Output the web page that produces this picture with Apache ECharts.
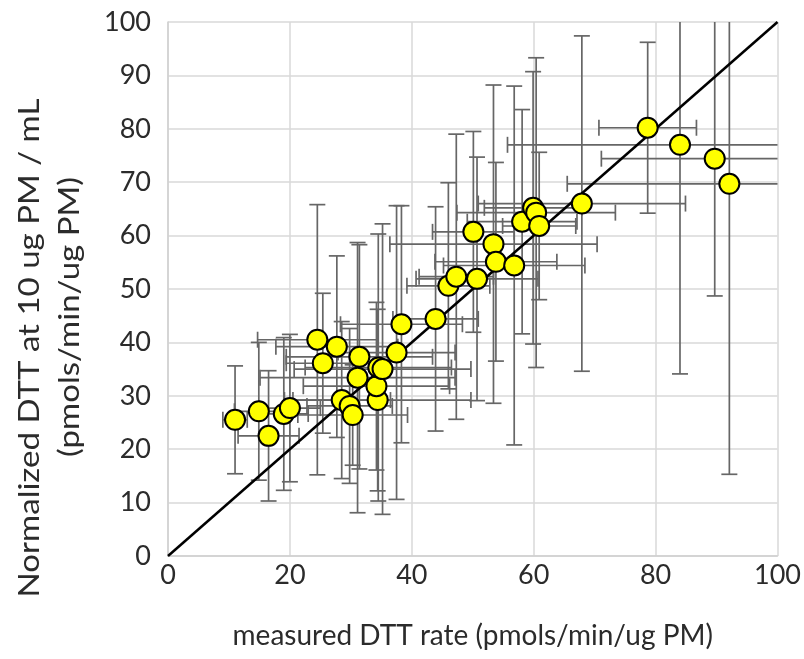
<!DOCTYPE html>
<html>
<head>
<meta charset="utf-8">
<script src="https://cdn.jsdelivr.net/npm/echarts@6/dist/echarts.min.js"></script>
<style>
html,body{margin:0;padding:0;background:#fff;}
#chart{width:804px;height:659px;}
</style>
</head>
<body>
<div id="chart"></div>
<script>
// measured DTT rate (x) and normalized DTT (y)
var xValues = [11.0, 14.9, 16.5, 19.0, 20.0, 24.5, 25.4, 27.7, 28.5, 29.8, 30.3, 31.1, 31.4, 34.4, 34.2, 34.5, 35.2, 37.5, 38.3, 43.9, 46.0, 47.3, 50.1, 50.7, 53.4, 53.8, 56.8, 58.1, 59.9, 60.4, 60.9, 67.9, 78.7, 84.0, 89.7, 92.1];
var yValues = [25.5, 27.1, 22.5, 26.6, 27.7, 40.5, 36.1, 39.2, 29.2, 28.1, 26.4, 33.4, 37.3, 29.2, 31.8, 35.3, 35.0, 38.1, 43.4, 44.4, 50.6, 52.3, 60.7, 51.9, 58.4, 55.1, 54.4, 62.6, 65.2, 64.3, 61.8, 66.0, 80.2, 77.0, 74.4, 69.7];
var xErrors = [2.0, 4.0, 5.0, 4.0, 5.0, 9.8, 6.0, 10.0, 8.0, 7.0, 9.0, 16.0, 12.0, 15.3, 12.0, 12.0, 14.5, 9.6, 10.0, 7.0, 6.8, 6.1, 6.7, 10.0, 17.0, 10.0, 11.6, 9.0, 8.0, 13.0, 6.0, 17.0, 8.0, 28.3, 18.6, 26.6];
var yErrors = [10.1, 12.9, 12.2, 14.3, 13.8, 25.3, 13.1, 17.0, 14.7, 14.5, 9.4, 25.3, 21.0, 17.0, 15.7, 25.0, 27.2, 27.5, 22.2, 21.0, 19.3, 26.7, 18.8, 22.8, 29.8, 18.6, 33.6, 21.0, 25.5, 29.0, 13.8, 31.4, 16.0, 42.9, 25.7, 54.4];
var xTicks = [0, 20, 40, 60, 80, 100];
var yTicks = [0, 10, 20, 30, 40, 50, 60, 70, 80, 90, 100];
var axisMin = 0, axisMax = 100;
var xTitle = 'measured DTT rate (pmols/min/ug PM)';
var yTitleLines = ['Normalized DTT at 10 ug PM / mL', '(pmols/min/ug PM)'];

var pts = xValues.map(function (x, i) { return [x, yValues[i], xErrors[i], yErrors[i]]; });

var FONT = 'Lato, "Open Sans", sans-serif';
var TXT = '#2b2b2b';
var chart = echarts.init(document.getElementById('chart'), null, {renderer: 'canvas'});

function renderErr(params, api) {
  var x = api.value(0), y = api.value(1), ex = api.value(2), ey = api.value(3);
  var cap = 8;
  var children = [];
  var style = {stroke: '#666666', lineWidth: 1.7};
  function seg(a, b) {
    children.push({type: 'line', shape: {x1: a[0], y1: a[1], x2: b[0], y2: b[1]}, style: style});
  }
  var yLo = y - ey, yHi = y + ey;
  var pLo = api.coord([x, Math.max(yLo, axisMin)]), pHi = api.coord([x, Math.min(yHi, axisMax)]);
  seg(pLo, pHi);
  if (yLo >= axisMin) seg([pLo[0] - cap, pLo[1]], [pLo[0] + cap, pLo[1]]);
  if (yHi <= axisMax) seg([pHi[0] - cap, pHi[1]], [pHi[0] + cap, pHi[1]]);
  var xLo = x - ex, xHi = x + ex;
  var qLo = api.coord([Math.max(xLo, axisMin), y]), qHi = api.coord([Math.min(xHi, axisMax), y]);
  seg(qLo, qHi);
  if (xLo >= axisMin) seg([qLo[0], qLo[1] - cap], [qLo[0], qLo[1] + cap]);
  if (xHi <= axisMax) seg([qHi[0], qHi[1] - cap], [qHi[0], qHi[1] + cap]);
  return {type: 'group', children: children};
}

chart.setOption({
  animation: false,
  backgroundColor: '#ffffff',
  grid: {left: 168, right: 25, top: 22, bottom: 103, containLabel: false},
  xAxis: {
    type: 'value', min: axisMin, max: axisMax, interval: 20,
    name: xTitle, nameLocation: 'middle', nameGap: 66,
    nameTextStyle: {fontFamily: FONT, fontSize: 28, color: TXT},
    axisLine: {show: true, lineStyle: {color: '#d0d0d0', width: 1.5}},
    axisTick: {show: false},
    axisLabel: {fontFamily: FONT, fontSize: 27, color: TXT, margin: 6},
    splitLine: {show: true, lineStyle: {color: '#d9d9d9', width: 1.5}}
  },
  yAxis: {
    type: 'value', min: axisMin, max: axisMax, interval: 10,
    axisLine: {show: true, lineStyle: {color: '#d0d0d0', width: 1.5}},
    axisTick: {show: false},
    axisLabel: {fontFamily: FONT, fontSize: 27, color: TXT, margin: 17},
    splitLine: {show: true, lineStyle: {color: '#d9d9d9', width: 1.5}}
  },
  graphic: [
    {type: 'text', x: 30, y: 348, rotation: Math.PI / 2, scaleX: 1.18,
     style: {text: yTitleLines[0], fontFamily: FONT, fontSize: 28, fill: TXT, textAlign: 'center', textVerticalAlign: 'middle'}},
    {type: 'text', x: 70, y: 317, rotation: Math.PI / 2, scaleX: 1.18,
     style: {text: yTitleLines[1], fontFamily: FONT, fontSize: 28, fill: TXT, textAlign: 'center', textVerticalAlign: 'middle'}}
  ],
  series: [
    {type: 'custom', data: pts, renderItem: renderErr, z: 1, silent: true},
    {type: 'line', data: [[axisMin, axisMin], [axisMax, axisMax]], symbol: 'none', z: 2,
     lineStyle: {color: '#000000', width: 2.5}, silent: true},
    {type: 'scatter', data: pts.map(function (p) { return [p[0], p[1]]; }), symbol: 'circle', symbolSize: 20, z: 3,
     itemStyle: {color: '#ffff00', borderColor: '#000000', borderWidth: 2, opacity: 1}}
  ]
});
</script>
</body>
</html>
